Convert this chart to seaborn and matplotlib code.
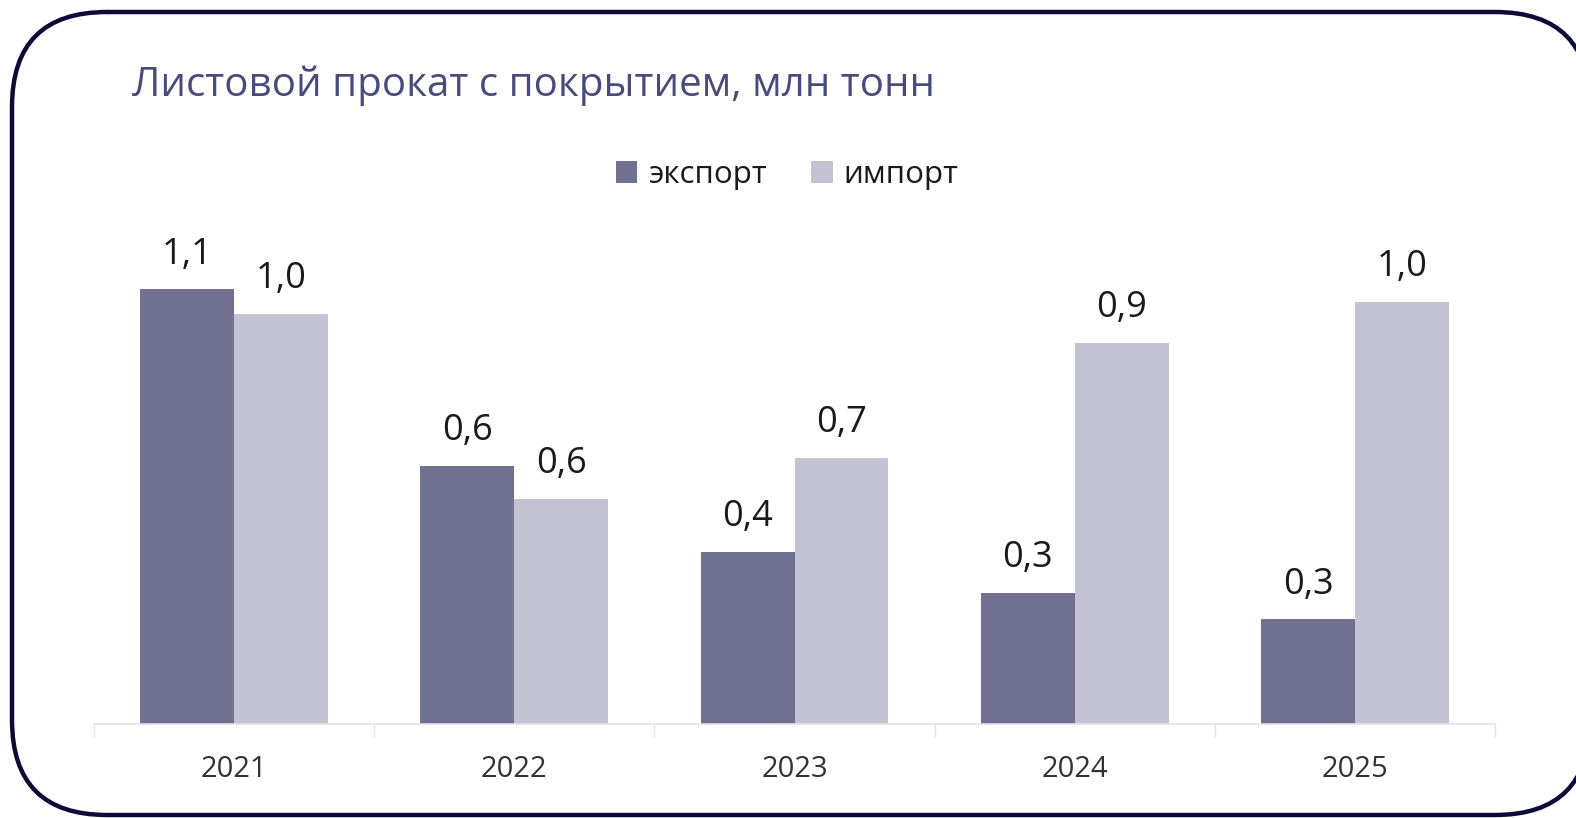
import matplotlib
matplotlib.use("Agg")
import matplotlib.pyplot as plt
from matplotlib.patches import FancyBboxPatch
import seaborn as sns
import pandas as pd

# -----------------------------
# Data
# -----------------------------
years = ["2021", "2022", "2023", "2024", "2025"]
export_vals = [1.06, 0.63, 0.42, 0.32, 0.255]
import_vals = [1.00, 0.55, 0.65, 0.93, 1.03]
series_names = ["экспорт", "импорт"]
colors = ["#707090", "#c3c2d3"]

df = pd.DataFrame({
    "year": years * 2,
    "value": export_vals + import_vals,
    "series": [series_names[0]] * len(years) + [series_names[1]] * len(years),
})

sns.set_style("white")
plt.rcParams["font.family"] = ["Open Sans", "DejaVu Sans"]

W, H = 1576, 818
fig = plt.figure(figsize=(W / 100, H / 100), dpi=100)

# background axes for the rounded frame (pixel coordinates)
bg = fig.add_axes([0, 0, 1, 1])
bg.set_xlim(0, W)
bg.set_ylim(H, 0)
bg.axis("off")
# build the rounded box, then flatten its curves to a polyline (avoids clipping artefacts)
box = FancyBboxPatch((12, 12), 1578, 803, boxstyle="round,pad=0,rounding_size=95")
outline = box.get_path().to_polygons(closed_only=False)[0]
bg.plot(outline[:, 0], outline[:, 1], color="#0c0c38", linewidth=3.2,
        solid_joinstyle="round", clip_on=False)

ax = fig.add_axes([94 / W, 1 - 724 / H, 1401 / W, 492 / H])
ax.patch.set_alpha(0)

sns.barplot(data=df, x="year", y="value", hue="series", palette=colors,
            width=0.67, gap=0, saturation=1, linewidth=0, ax=ax, legend=True)

# value labels with comma decimal
for cont in ax.containers:
    labels = [f"{b.get_height():.1f}".replace(".", ",") for b in cont]
    ax.bar_label(cont, labels=labels, padding=12, fontsize=26, color="#1a1a1a")

ax.set_ylim(0, 1.2)
ax.set_xlim(-0.5, 4.5)
ax.set_xlabel("")
ax.set_ylabel("")
ax.set_yticks([])
for s in ["top", "left", "right"]:
    ax.spines[s].set_visible(False)
ax.spines["bottom"].set_color("#e3e3e8")
ax.spines["bottom"].set_linewidth(1.2)
ax.tick_params(axis="x", which="major", length=0, pad=22, labelsize=21, labelcolor="#333333")
ax.set_xticks([i - 0.5 for i in range(len(years) + 1)], minor=True)
ax.tick_params(axis="x", which="minor", bottom=True, length=9, width=1.0, color="#e3e3e8")

# legend
ax.legend_.remove()
handles, labs = ax.get_legend_handles_labels()
fig.legend(handles, labs, loc="center", bbox_to_anchor=(787 / W, 1 - 175 / H),
           ncol=2, frameon=False, fontsize=22.5, handlelength=0.7, handleheight=0.7,
           handletextpad=0.35, columnspacing=1.4, labelcolor="#1a1a1a")

# title
fig.text(132 / W, 1 - 86 / H, "Листовой прокат с покрытием, млн тонн",
         fontsize=29, color="#4a4a7c", ha="left", va="center")

fig.savefig("out.png", dpi=100)
